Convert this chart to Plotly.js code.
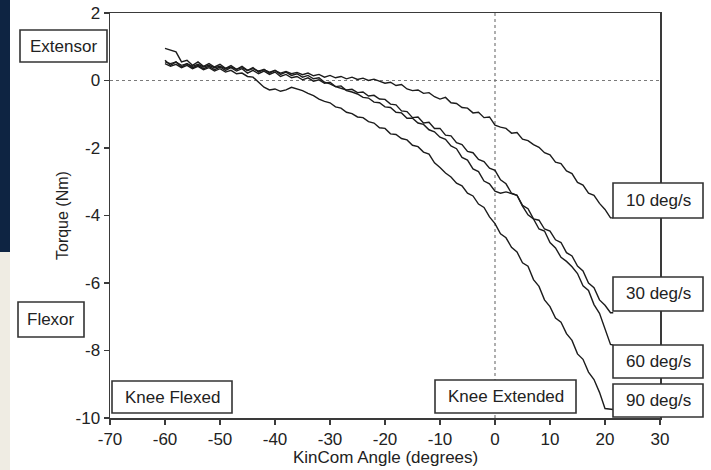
<!DOCTYPE html>
<html>
<head>
<meta charset="utf-8">
<script src="https://cdn.plot.ly/plotly-3.0.1.min.js"></script>
<style>
  html, body { margin: 0; padding: 0; background: #ffffff; }
  #chart { width: 711px; height: 470px; }
</style>
</head>
<body>
<div id="chart"></div>
<script>
// ---- data ----
const angle = [-60,-59,-58,-57,-56,-55,-54,-53,-52,-51,
  -50,-49,-48,-47,-46,-45,-44,-43,-42,-41,
  -40,-39,-38,-37,-36,-35,-34,-33,-32,-31,
  -30,-29,-28,-27,-26,-25,-24,-23,-22,-21,
  -20,-19,-18,-17,-16,-15,-14,-13,-12,-11,
  -10,-9,-8,-7,-6,-5,-4,-3,-2,-1,
  0,1,2,3,4,5,6,7,8,9,
  10,11,12,13,14,15,16,17,18,19,
  20,21,21.5];

const torque10 = [0.55,0.5,0.55,0.45,0.5,0.42,0.48,0.4,0.45,0.38,
  0.42,0.35,0.4,0.33,0.38,0.3,0.35,0.28,0.32,0.25,
  0.3,0.22,0.27,0.2,0.24,0.17,0.22,0.14,0.18,0.1,
  0.15,0.08,0.12,0.05,0.1,0.03,0.07,0.0,0.04,-0.02,
  -0.08,-0.05,-0.15,-0.12,-0.25,-0.3,-0.28,-0.38,-0.36,-0.48,
  -0.55,-0.5,-0.66,-0.68,-0.8,-0.82,-0.96,-0.94,-1.1,-1.08,
  -1.32,-1.38,-1.42,-1.56,-1.54,-1.74,-1.78,-1.9,-1.98,-2.14,
  -2.2,-2.42,-2.46,-2.68,-2.76,-3.02,-3.1,-3.34,-3.4,-3.64,
  -3.82,-4.07,-4.07];

const torque30 = [0.95,0.9,0.85,0.55,0.6,0.45,0.55,0.42,0.5,0.4,
  0.48,0.36,0.44,0.33,0.42,0.3,0.38,0.25,0.33,0.22,
  0.3,0.18,0.25,0.15,0.2,0.1,0.15,0.05,0.08,-0.05,
  -0.1,-0.18,-0.22,-0.28,-0.26,-0.36,-0.34,-0.46,-0.44,-0.55,
  -0.56,-0.7,-0.72,-0.9,-0.92,-1.1,-1.08,-1.26,-1.24,-1.42,
  -1.42,-1.62,-1.64,-1.84,-1.9,-2.1,-2.14,-2.34,-2.4,-2.6,
  -2.66,-2.94,-3.06,-3.34,-3.4,-3.7,-3.8,-4.1,-4.14,-4.4,
  -4.46,-4.72,-4.8,-5.1,-5.2,-5.5,-5.64,-6.0,-6.14,-6.5,
  -6.66,-6.88,-6.88];

const torque60 = [0.6,0.45,0.55,0.4,0.5,0.38,0.45,0.35,0.42,0.32,
  0.4,0.3,0.38,0.28,0.35,0.22,0.3,0.2,0.28,0.18,
  0.25,0.12,0.18,0.08,0.12,0.02,0.08,-0.02,0.02,-0.08,
  -0.05,-0.18,-0.16,-0.3,-0.34,-0.4,-0.5,-0.52,-0.64,-0.66,
  -0.78,-0.8,-0.94,-0.96,-1.12,-1.12,-1.26,-1.3,-1.46,-1.52,
  -1.68,-1.74,-1.94,-2.02,-2.28,-2.36,-2.62,-2.7,-2.98,-3.06,
  -3.28,-3.34,-3.3,-3.36,-3.4,-3.72,-3.98,-4.1,-4.4,-4.46,
  -4.8,-4.96,-5.24,-5.36,-5.52,-5.72,-6.08,-6.22,-6.64,-6.9,
  -7.34,-7.82,-7.84];

const torque90 = [0.5,0.42,0.48,0.38,0.45,0.35,0.42,0.32,0.38,0.28,
  0.35,0.25,0.3,0.2,0.22,0.12,0.1,-0.05,-0.2,-0.28,
  -0.25,-0.32,-0.28,-0.2,-0.25,-0.3,-0.38,-0.45,-0.55,-0.62,
  -0.66,-0.78,-0.82,-0.94,-0.98,-1.08,-1.1,-1.22,-1.26,-1.4,
  -1.42,-1.58,-1.6,-1.72,-1.76,-1.92,-1.96,-2.12,-2.18,-2.44,
  -2.58,-2.74,-2.86,-3.04,-3.12,-3.34,-3.42,-3.66,-3.76,-4.04,
  -4.24,-4.54,-4.66,-4.94,-5.08,-5.4,-5.5,-5.9,-6.1,-6.5,
  -6.7,-7.04,-7.16,-7.5,-7.7,-8.1,-8.26,-8.64,-8.86,-9.24,
  -9.72,-9.75,-9.75];

const seriesNames = ['10 deg/s','30 deg/s','60 deg/s','90 deg/s'];
const xTickVals = [-70,-60,-50,-40,-30,-20,-10,0,10,20,30];
const xTickText = ['-70','-60','-50','-40','-30','-20','-10','0','10','20','30'];
const yTickVals = [-10,-8,-6,-4,-2,0,2];
const yTickText = ['-10','-8','-6','-4','-2','0','2'];
const sideLabels = ['Extensor','Flexor','Knee Flexed','Knee Extended'];

// ---- layout helpers (pixel -> paper) ----
const L = 110, R = 660, T = 13, B = 418;
const px = v => (v - L) / (R - L);
const py = v => (B - v) / (B - T);

const ink = '#222222';
const fontFam = '"Liberation Sans", Arial, Helvetica, sans-serif';

const allY = [torque10, torque30, torque60, torque90];
const traces = allY.map((ys, i) => ({
  type: 'scatter', mode: 'lines', name: seriesNames[i],
  x: angle, y: ys,
  line: {color: '#1c1c1c', width: 1.4},
  showlegend: false, hoverinfo: 'skip'
}));

// boxes: [x0,x1,y0,y1] in px, label
const boxes = [
  [20,107,30,62, sideLabels[0]],
  [18,84,302,337, sideLabels[1]],
  [112,232,381,413, sideLabels[2]],
  [435,576,380,413, sideLabels[3]],
  [613,703,183,218, seriesNames[0]],
  [613,703,277,311, seriesNames[1]],
  [613,703,345,378, seriesNames[2]],
  [613,703,384,417, seriesNames[3]]
];

const shapes = [
  {type:'rect', xref:'paper', yref:'paper', x0:px(0), x1:px(10), y0:py(0), y1:py(252),
   fillcolor:'#0e2442', line:{width:0}, layer:'below'},
  {type:'rect', xref:'paper', yref:'paper', x0:px(0), x1:px(10), y0:py(252), y1:py(470),
   fillcolor:'#efece3', line:{width:0}, layer:'below'},
  {type:'line', xref:'x', yref:'y', x0:-70, x1:30, y0:0, y1:0,
   line:{color:'#7a7a7a', width:1.2, dash:'dot'}, layer:'below'},
  {type:'line', xref:'x', yref:'y', x0:0, x1:0, y0:-10, y1:2,
   line:{color:'#7a7a7a', width:1.2, dash:'dot'}, layer:'below'}
];
const annotations = [];
boxes.forEach(b => {
  shapes.push({type:'rect', xref:'paper', yref:'paper',
    x0:px(b[0]), x1:px(b[1]), y0:py(b[3]), y1:py(b[2]),
    fillcolor:'#ffffff', line:{color:'#333333', width:1.6}, layer:'above'});
  annotations.push({xref:'paper', yref:'paper', x:px((b[0]+b[1])/2), y:py((b[2]+b[3])/2),
    text:b[4], showarrow:false, xanchor:'center', yanchor:'middle',
    font:{family:fontFam, size:17, color:ink}});
});
annotations.push({xref:'paper', yref:'paper', x:px(385), y:py(457), text:'KinCom Angle (degrees)',
  showarrow:false, xanchor:'center', yanchor:'middle', font:{family:fontFam, size:17, color:ink}});
annotations.push({xref:'paper', yref:'paper', x:px(62), y:py(215), text:'Torque (Nm)', textangle:-90,
  showarrow:false, xanchor:'center', yanchor:'middle', font:{family:fontFam, size:16, color:'#222222'}});

const layout = {
  width: 711, height: 470,
  margin: {l: L, r: 711 - R, t: T, b: 470 - B, pad: 0},
  paper_bgcolor: '#ffffff', plot_bgcolor: '#ffffff',
  font: {family: fontFam, size: 17, color: ink},
  xaxis: {range: [-70, 30], tickvals: xTickVals, ticktext: xTickText,
    showgrid: false, zeroline: false, showline: true, mirror: true,
    linecolor: '#3a3a3a', linewidth: 1.5, ticks: 'outside', ticklen: 5,
    tickwidth: 1.5, tickcolor: '#3a3a3a', tickfont: {family: fontFam, size: 17, color: ink}},
  yaxis: {range: [-10, 2], tickvals: yTickVals, ticktext: yTickText,
    showgrid: false, zeroline: false, showline: true, mirror: true,
    linecolor: '#3a3a3a', linewidth: 1.5, ticks: 'outside', ticklen: 5,
    tickwidth: 1.5, tickcolor: '#3a3a3a', tickfont: {family: fontFam, size: 17, color: ink}},
  shapes: shapes,
  annotations: annotations,
  showlegend: false
};

Plotly.newPlot('chart', traces, layout, {displayModeBar: false, staticPlot: true});
</script>
</body>
</html>
